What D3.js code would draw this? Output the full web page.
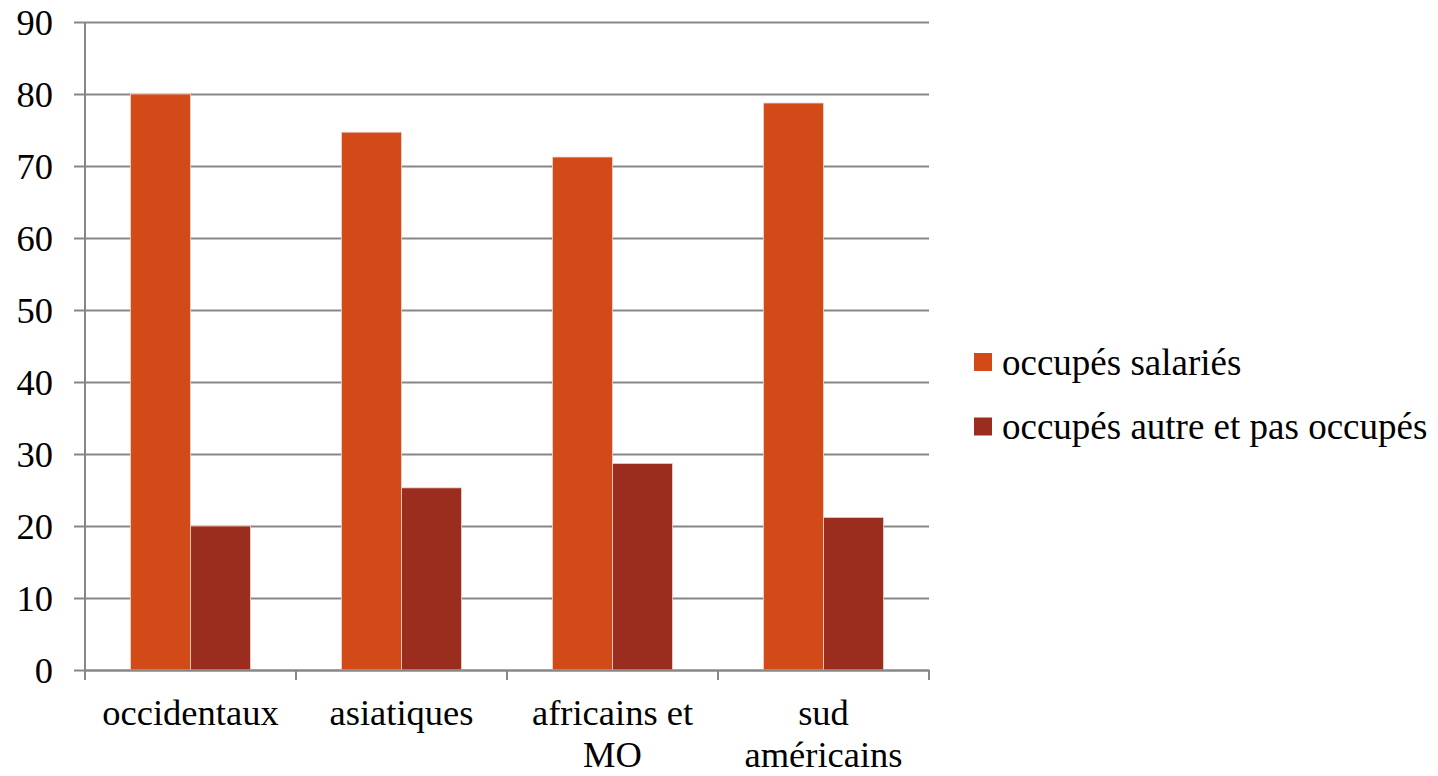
<!DOCTYPE html>
<html>
<head>
<meta charset="utf-8">
<script src="https://cdn.jsdelivr.net/npm/d3@7"></script>
<style>
  html, body { margin: 0; padding: 0; background: #ffffff; }
  svg { display: block; }
  text { font-family: "Liberation Serif", "Times New Roman", "DejaVu Serif", serif; fill: #000; }
</style>
</head>
<body>
<svg id="chart" width="1438" height="776"></svg>
<script>
// Groups of origin (labels may wrap on two lines)
const categories = ["occidentaux", "asiatiques", "africains et MO", "sud américains"];
const categoryLines = [["occidentaux"], ["asiatiques"], ["africains et", "MO"], ["sud", "américains"]];
const seriesNames = ["occupés salariés", "occupés autre et pas occupés"];
const salaries = [80.0, 74.7, 71.25, 78.75];
const autres = [20.0, 25.3, 28.7, 21.2];
const yTicks = [0, 10, 20, 30, 40, 50, 60, 70, 80, 90];
const colors = ["#D24A18", "#9B2D1F"];

const FONT = '"Liberation Serif", "Times New Roman", serif';
const svg = d3.select("#chart");
const margin = { left: 85, right: 509, top: 22, bottom: 106 };
const W = 1438, H = 776;
const plotW = W - margin.left - margin.right;
const plotH = H - margin.top - margin.bottom;

const g = svg.append("g").attr("transform", `translate(${margin.left},${margin.top})`);

const x = d3.scaleBand().domain(categories).range([0, plotW]).paddingInner(0).paddingOuter(0);
const y = d3.scaleLinear().domain([0, 90]).range([plotH, 0]);
const groupW = x.bandwidth() * 120 / 211;
const x1 = d3.scaleBand().domain(seriesNames).range([(x.bandwidth() - groupW) / 2, (x.bandwidth() + groupW) / 2]);

// Horizontal gridlines with left tick marks
const yAxis = d3.axisLeft(y).tickValues(yTicks).tickSize(-plotW).tickFormat(d3.format("d"));
const yG = g.append("g").call(yAxis).attr("font-family", FONT);
yG.select(".domain").remove();
yG.selectAll(".tick line").attr("stroke", "#878787").attr("stroke-width", 2).attr("x1", -11);
yG.selectAll(".tick text").style("font-size", "36.5px").attr("x", -32).attr("dy", "0.34em");

// Bars
const data = categories.map((c, i) => ({ cat: c, vals: [salaries[i], autres[i]] }));
const groups = g.append("g").selectAll("g").data(data).join("g")
  .attr("transform", d => `translate(${x(d.cat)},0)`);
groups.selectAll("rect").data(d => d.vals.map((v, j) => ({ name: seriesNames[j], v, j })))
  .join("rect")
  .attr("x", d => x1(d.name))
  .attr("y", d => y(d.v))
  .attr("width", x1.bandwidth())
  .attr("height", d => plotH - y(d.v))
  .attr("fill", d => colors[d.j])
  .attr("stroke", "#f3d6cf")
  .attr("stroke-width", 0.8);

// Vertical axis line
g.append("line").attr("x1", 0).attr("x2", 0).attr("y1", 0).attr("y2", plotH + 10)
  .attr("stroke", "#878787").attr("stroke-width", 2);

// Category axis: baseline and tick marks between groups
const xAxis = d3.axisBottom(x).tickSize(0).tickFormat("");
const xG = g.append("g").attr("transform", `translate(0,${plotH})`).call(xAxis);
xG.select(".domain").attr("stroke", "#878787").attr("stroke-width", 2);
const bounds = categories.map(c => x(c)).concat([plotW]);
xG.selectAll("line.sep").data(bounds).join("line").attr("class", "sep")
  .attr("x1", d => d).attr("x2", d => d).attr("y1", 0).attr("y2", 10)
  .attr("stroke", "#878787").attr("stroke-width", 2);

// Category labels (wrapped)
const labels = g.append("g").selectAll("text").data(categories).join("text")
  .attr("x", d => x(d) + x.bandwidth() / 2)
  .attr("y", plotH + 55)
  .attr("text-anchor", "middle")
  .style("font-size", "36.5px");
labels.selectAll("tspan").data((d, i) => categoryLines[i]).join("tspan")
  .attr("x", function () { return d3.select(this.parentNode).attr("x"); })
  .attr("dy", (d, i) => i === 0 ? 0 : 42)
  .text(d => d);

// Legend
const legend = svg.append("g").attr("transform", "translate(974,353)");
const items = legend.selectAll("g").data(seriesNames).join("g")
  .attr("transform", (d, i) => `translate(0,${i * 64.5})`);
items.append("rect").attr("width", 18).attr("height", 18).attr("fill", (d, i) => colors[i]);
items.append("text").attr("x", 28).attr("y", 9).attr("dy", "0.34em")
  .style("font-size", "37px").text(d => d);
</script>
</body>
</html>
